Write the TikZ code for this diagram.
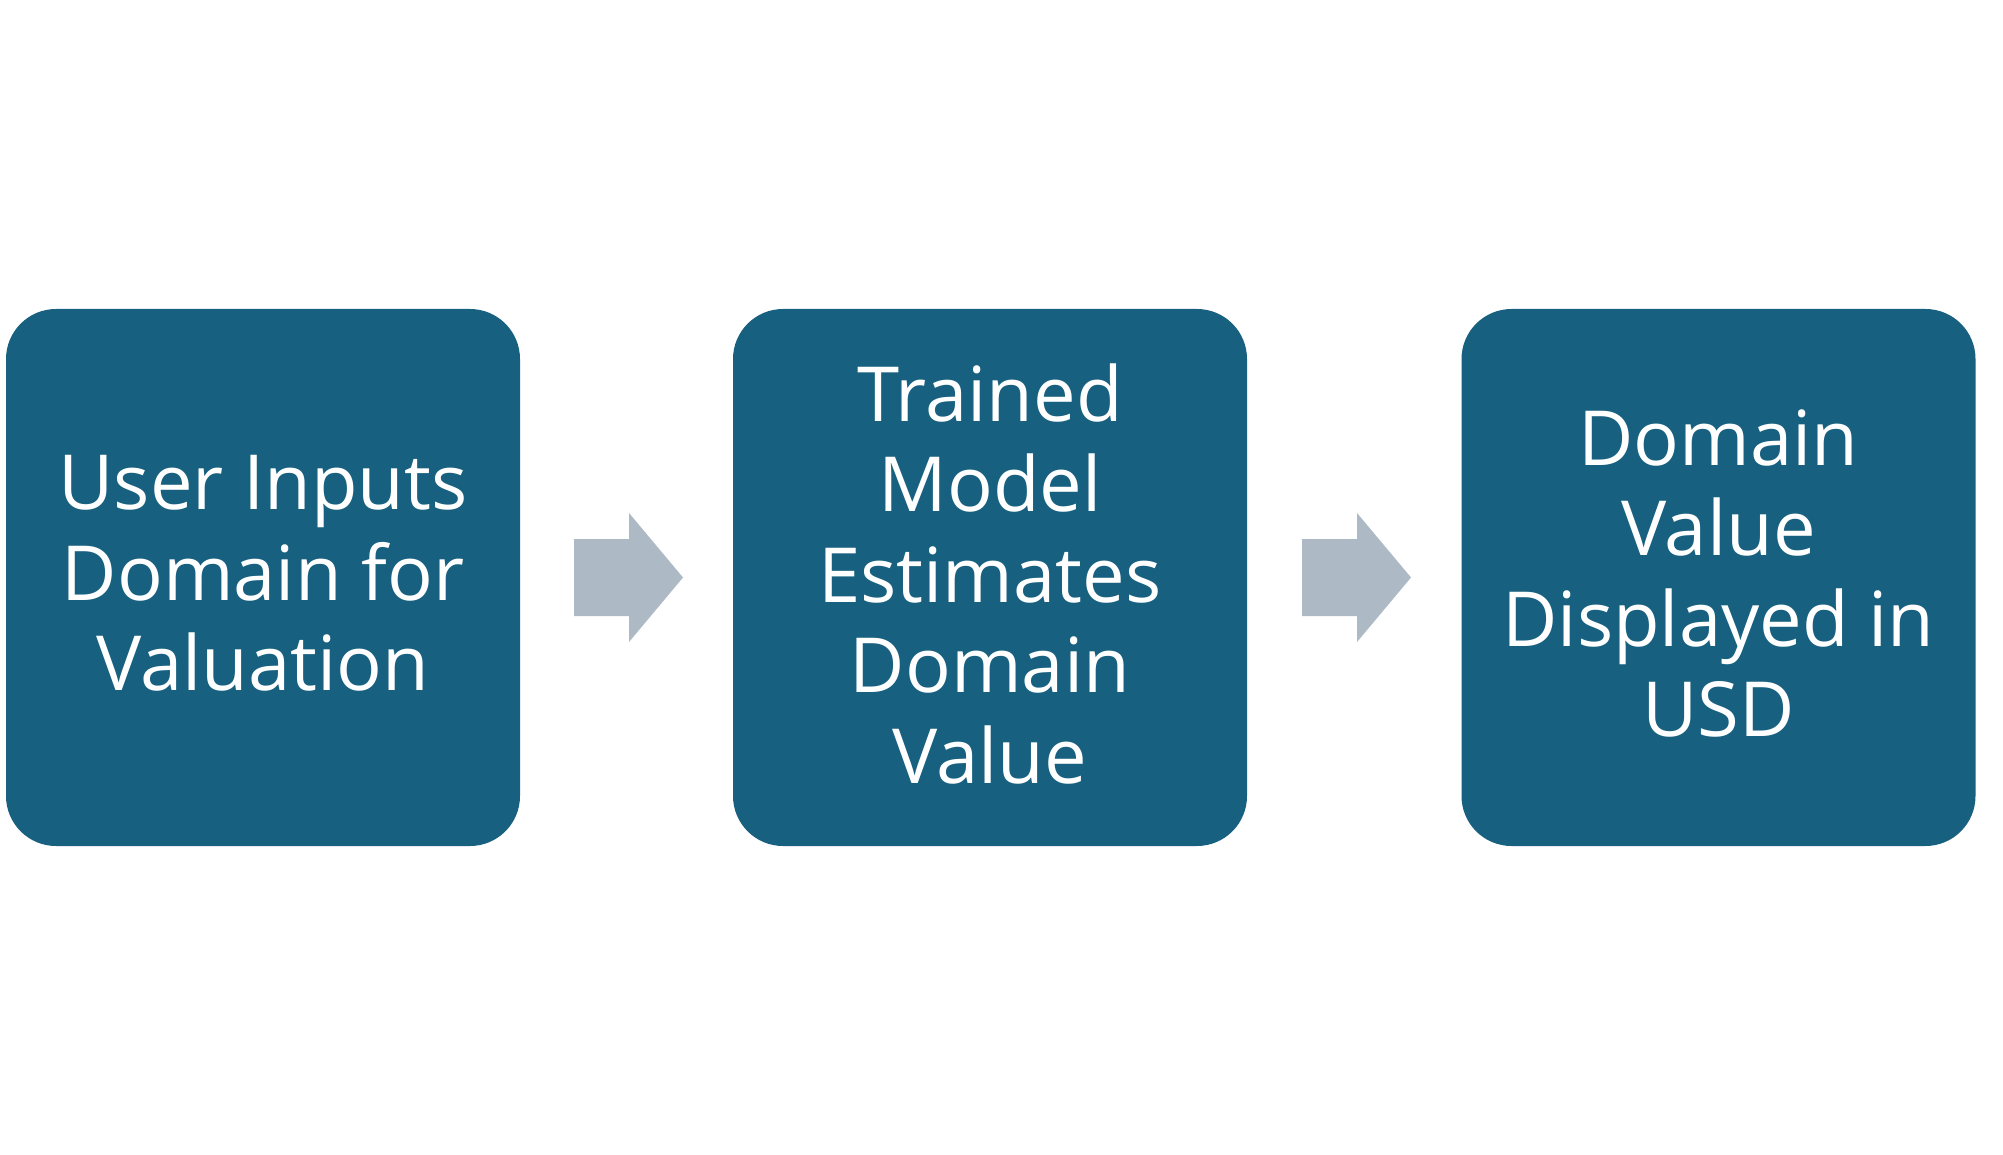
\documentclass[tikz,border=0pt]{standalone}
\usepackage{fontspec}
\setmainfont{Open Sans}
\definecolor{boxblue}{RGB}{23,96,127}
\definecolor{arrowgray}{RGB}{173,185,196}
\begin{document}
\begin{tikzpicture}[x=1pt,y=-1pt,
  stepbox/.style={fill=boxblue,draw=none,rounded corners=50pt,minimum width=514pt,minimum height=537pt,
    text=white,align=center,inner sep=0pt,font=\fontsize{76}{90.5}\selectfont},
  flowarrow/.style={fill=arrowgray,draw=none}]
\useasboundingbox (0,0) rectangle (2003,1155);
\node[stepbox] (b1) at (263,577.5) {};
\node[stepbox] (b2) at (990,577.5) {};
\node[stepbox] (b3) at (1718.5,577.5) {};
\node[stepbox,fill=none,yshift=4pt] (t1) at (b1.center) {User Inputs\\Domain for\\Valuation};
\node[stepbox,fill=none,yshift=4pt] (t2) at (b2.center) {Trained\\Model\\Estimates\\Domain\\Value};
\node[stepbox,fill=none,yshift=4pt] (t3) at (b3.center) {Domain\\Value\\Displayed in\\USD};
\foreach \dx/\n in {0/a1,728/a2}{
  \fill[arrowgray] (574+\dx,539) -- (629+\dx,539) -- (629+\dx,513) -- (683+\dx,577.5) -- (629+\dx,642) -- (629+\dx,616) -- (574+\dx,616) -- cycle;
}
\end{tikzpicture}
\end{document}
